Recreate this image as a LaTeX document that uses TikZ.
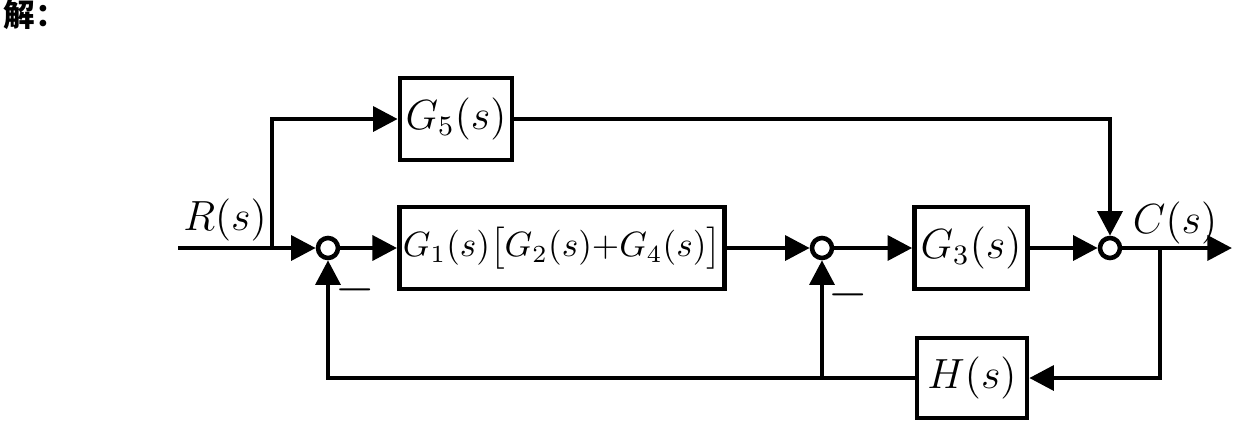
\documentclass[tikz,border=0pt]{standalone}
\usepackage{fontspec}
\newfontfamily\cjk{Noto Sans CJK SC}
\usetikzlibrary{positioning,arrows.meta}
\begin{document}
\begin{tikzpicture}[x=1cm,y=1cm,line width=1.3pt,
    block/.style={draw,minimum height=0.82cm,inner sep=1pt,font=\large},
    sumpt/.style={draw,circle,inner sep=0pt,minimum size=0.2cm},
    >={Triangle[length=7pt,width=7pt]}]
  \useasboundingbox (0,0) rectangle (12.46,4.35);
  \node[font=\cjk\bfseries\small] (jie) at (0.35,4.2) {解：};
  % forward path
  \coordinate (in) at (1.78,1.87);
  \coordinate (br) at (2.72,1.87);
  \node[sumpt] (s1) at (3.28,1.87) {};
  \node[block,minimum width=3.24cm,font=\normalsize] (g1) at (5.62,1.87) {$G_1(s)\big[G_2(s){+}G_4(s)\big]$};
  \node[sumpt] (s2) at (8.22,1.87) {};
  \node[block,minimum width=1.13cm] (g3) at (9.71,1.87) {$G_3(s)$};
  \node[sumpt] (s3) at (11.10,1.87) {};
  \coordinate (out) at (12.32,1.87);
  \coordinate (cb) at (11.60,1.87);
  \node[block,minimum width=1.12cm] (g5) at (4.56,3.16) {$G_5(s)$};
  \node[block,minimum width=1.10cm,minimum height=0.8cm] (h) at (9.72,0.57) {$H(s)$};
  \coordinate (fb) at (8.22,0.57);
  % connectors
  \draw (in) -- (br);
  \draw[->] (br) -- (s1);
  \draw[->] (br) |- (g5);
  \draw[->] (s1) -- (g1);
  \draw[->] (g1) -- (s2);
  \draw[->] (s2) -- (g3);
  \draw[->] (g3) -- (s3);
  \draw[->] (g5) -| (s3);
  \draw[->] (s3) -- (out);
  \draw[->] (cb) |- (h);
  \draw[->] (h) -| (s1);
  \draw[->] (fb) -- (s2);
  % labels
  \node[font=\large] (rl) at (2.25,2.15) {$R(s)$};
  \node[font=\large] (cl) at (11.75,2.12) {$C(s)$};
  \node[font=\Large] (m1) at (3.55,1.45) {$-$};
  \node[font=\Large] (m2) at (8.48,1.40) {$-$};
\end{tikzpicture}
\end{document}
